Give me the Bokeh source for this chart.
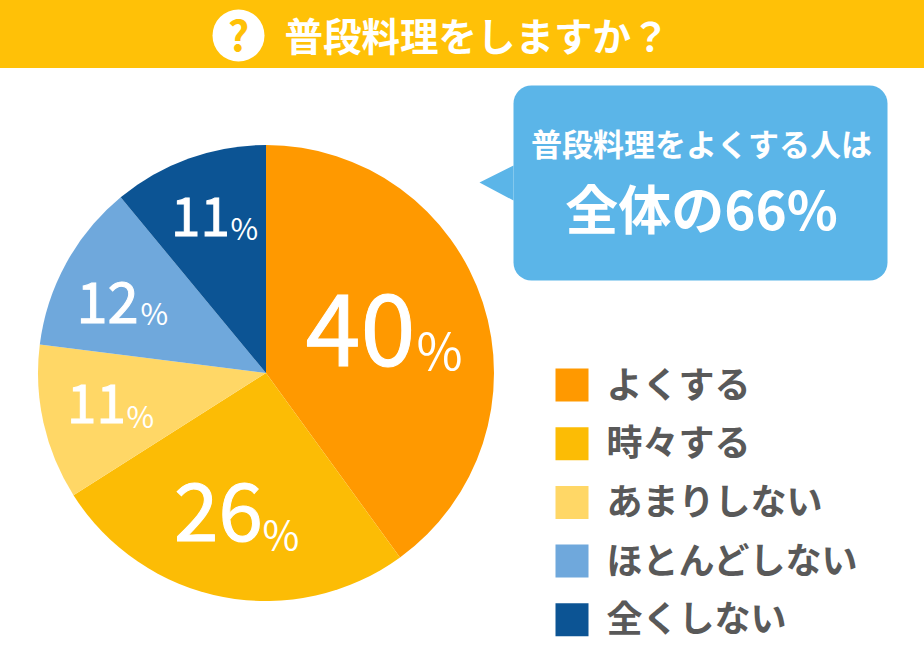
from bokeh.plotting import figure
from bokeh.embed import file_html
from bokeh.resources import INLINE
from bokeh.core.properties import value
from bokeh.models import Range1d
import math

title = "普段料理をしますか？"
callout_top = "普段料理をよくする人は"
callout_main = "全体の66%"
categories = ["よくする", "時々する", "あまりしない", "ほとんどしない", "全くしない"]
values = [40, 26, 11, 12, 11]
colors = ["#FF9900", "#FCBC05", "#FFD766", "#6FA8DC", "#0C5494"]
label_pos = [(361, 330), (219, 512), (97, 404), (108, 303), (201, 217)]
label_size = [99, 80, 53, 56, 53]
pct_pos = [(417, 348), (263, 533), (127, 415), (141, 312), (231, 227)]
pct_size = [50, 40, 30, 30, 30]

W, H = 924, 668
FONT = value("Noto Sans CJK JP")
p = figure(width=W + 1, height=H + 1, output_backend="svg", toolbar_location=None,
           x_range=Range1d(0, W + 1), y_range=Range1d(-1, H),
           min_border=0, outline_line_color=None, margin=(-1, 0, 0, -1))
p.axis.visible = False
p.grid.visible = False

def Y(py):
    return H - py

# header band
p.quad(left=[-10], right=[W + 10], top=[Y(-10)], bottom=[Y(68.5)], fill_color="#FFC107", line_color=None)
p.scatter(x=[239], y=[Y(36)], size=52, marker="circle", fill_color="white", line_color=None)
p.text(x=[239], y=[Y(33)], text=["?"], text_font=FONT, text_font_style="bold", text_font_size="42px",
       text_color="#FFC107", text_align="center", text_baseline="middle")
p.text(x=[285], y=[Y(34)], text=[title], text_font=FONT, text_font_style="bold", text_font_size="38.5px",
       text_color="white", text_align="left", text_baseline="middle")

# pie
cx, cy, r = 266.5, 373.5, 228
total = sum(values)
acc = 0
starts, ends = [], []
for v in values:
    starts.append(math.pi / 2 - 2 * math.pi * acc / total)
    acc += v
    ends.append(math.pi / 2 - 2 * math.pi * acc / total)
p.wedge(x=[cx] * len(values), y=[Y(cy)] * len(values), radius=r, start_angle=starts, end_angle=ends,
        direction="clock", fill_color=colors, line_color=None)

# pie labels
for v, (lx, ly), s, (px, py), ps in zip(values, label_pos, label_size, pct_pos, pct_size):
    p.text(x=[lx], y=[Y(ly)], text=[str(v)], text_font=FONT, text_font_size=f"{s}px",
           text_color="white", text_align="center", text_baseline="middle",
           text_outline_color="white")
    p.text(x=[px], y=[Y(py)], text=["%"], text_font=FONT, text_font_size=f"{ps}px",
           text_color="white", text_align="left", text_baseline="middle")

# callout
p.patch(x=[514, 480, 514], y=[Y(166), Y(183), Y(201)], fill_color="#5BB5E8", line_color=None)
p.quad(left=[514], right=[888], top=[Y(86)], bottom=[Y(281)], fill_color="#5BB5E8", line_color=None,
       border_radius=18)
p.text(x=[702], y=[Y(143)], text=[callout_top], text_font=FONT, text_font_style="bold", text_font_size="31px",
       text_color="white", text_align="center", text_baseline="middle")
p.text(x=[702], y=[Y(207)], text=[callout_main], text_font=FONT, text_font_style="bold", text_font_size="53px",
       text_color="white", text_align="center", text_baseline="middle")

# legend
for i, (c, col) in enumerate(zip(categories, colors)):
    yy = 386 + i * 58.7
    p.quad(left=[556], right=[589], top=[Y(yy - 17)], bottom=[Y(yy + 16)], fill_color=col, line_color=None)
    p.text(x=[607], y=[Y(yy - 4)], text=[c], text_font=FONT, text_font_style="bold", text_font_size="36px",
           text_color="#595959", text_align="left", text_baseline="middle")

open("out.html", "w").write(file_html(p, INLINE))
